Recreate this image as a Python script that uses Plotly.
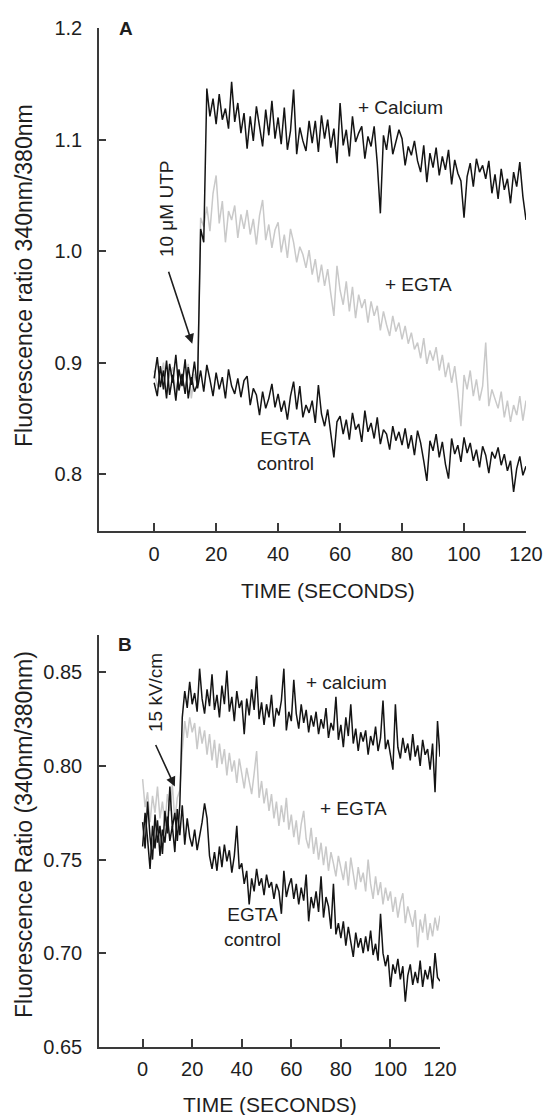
import plotly.graph_objects as go

# ---------------- data ----------------
time_s = list(range(0, 121))

# Panel A: UTP stimulation
a_control = [
    0.886, 0.905, 0.878, 0.893, 0.868, 0.899, 0.882, 0.907, 0.875, 0.890,
    0.872, 0.896, 0.880, 0.901, 0.877, 0.893, 0.874, 0.898, 0.885, 0.870,
    0.891, 0.876, 0.887, 0.868, 0.894, 0.879, 0.872, 0.886, 0.869, 0.884,
    0.888, 0.862, 0.877, 0.871, 0.853, 0.874, 0.859, 0.868, 0.881, 0.860,
    0.872, 0.856, 0.866, 0.849, 0.870, 0.883, 0.858, 0.879, 0.851, 0.862,
    0.855, 0.866, 0.846, 0.880, 0.854, 0.843, 0.858, 0.838, 0.815, 0.847,
    0.852, 0.836, 0.849, 0.831, 0.855, 0.840, 0.845, 0.829, 0.857, 0.838,
    0.846, 0.832, 0.851, 0.827, 0.840, 0.836, 0.822, 0.843, 0.830, 0.838,
    0.826, 0.841, 0.823, 0.835, 0.817, 0.839, 0.828, 0.812, 0.794, 0.830,
    0.821, 0.836, 0.815, 0.829, 0.809, 0.796, 0.832, 0.818, 0.826, 0.811,
    0.833, 0.819, 0.828, 0.812, 0.822, 0.806, 0.825, 0.817, 0.801, 0.820,
    0.814, 0.824, 0.808, 0.818, 0.803, 0.812, 0.784, 0.805, 0.816, 0.799,
    0.807,
]
a_calcium = [
    0.882, 0.870, 0.897, 0.876, 0.902, 0.871, 0.889, 0.866, 0.894, 0.879,
    0.903, 0.868, 0.887, 0.874, 0.881, 1.020, 1.008, 1.146, 1.121, 1.137,
    1.114, 1.141, 1.118, 1.128, 1.110, 1.152, 1.116, 1.133, 1.106, 1.124,
    1.092, 1.121, 1.099, 1.130, 1.112, 1.094, 1.127, 1.104, 1.135, 1.101,
    1.120, 1.096, 1.129, 1.091, 1.108, 1.145, 1.087, 1.111, 1.099, 1.090,
    1.117, 1.097, 1.117, 1.089, 1.122, 1.101, 1.118, 1.093, 1.110, 1.079,
    1.133, 1.095, 1.109, 1.085, 1.121, 1.098, 1.106, 1.112, 1.083, 1.103,
    1.094, 1.112, 1.079, 1.034, 1.104, 1.091, 1.113, 1.087, 1.098, 1.109,
    1.101, 1.077, 1.094, 1.086, 1.099, 1.081, 1.071, 1.095, 1.062, 1.088,
    1.075, 1.093, 1.068, 1.085, 1.073, 1.091, 1.060, 1.082, 1.070, 1.063,
    1.030, 1.067, 1.079, 1.058, 1.083, 1.071, 1.077, 1.065, 1.081, 1.052,
    1.069, 1.047, 1.074, 1.055, 1.065, 1.043, 1.071, 1.058, 1.080, 1.049,
    1.028,
]
a_egta = [
    0.893, 0.879, 0.884, 0.900, 0.872, 0.888, 0.896, 0.870, 0.891, 0.883,
    0.877, 0.899, 0.868, 0.890, 0.880, 1.030, 1.022, 1.040, 1.018, 1.052,
    1.068, 1.025, 1.045, 1.008, 1.036, 1.028, 1.041, 1.012, 1.033, 1.020,
    1.037, 1.015, 1.029, 1.006, 1.032, 1.046, 1.010, 1.024, 1.003, 1.019,
    1.026, 0.999, 1.015, 0.994, 1.020, 1.008, 0.990, 1.004, 0.997, 0.985,
    1.001, 0.979, 0.993, 0.972, 0.988, 0.969, 0.984, 0.962, 0.942, 0.987,
    0.965, 0.952, 0.973, 0.946, 0.968, 0.940, 0.961, 0.949, 0.957, 0.936,
    0.955, 0.942, 0.951, 0.929, 0.946, 0.934, 0.924, 0.942, 0.928, 0.936,
    0.921, 0.933, 0.917, 0.927, 0.912, 0.918, 0.904, 0.922, 0.899, 0.911,
    0.902, 0.914, 0.893, 0.907, 0.887, 0.900, 0.882, 0.897, 0.874, 0.843,
    0.889, 0.876, 0.893, 0.870, 0.885, 0.866, 0.879, 0.918, 0.861, 0.876,
    0.868, 0.859, 0.874, 0.851, 0.866, 0.847, 0.862, 0.853, 0.870, 0.848,
    0.866,
]

# Panel B: 15 kV/cm pulse
b_control = [
    0.757, 0.775, 0.761, 0.745, 0.768, 0.756, 0.771, 0.752, 0.766, 0.759,
    0.773, 0.760, 0.768, 0.754, 0.777, 0.763, 0.779, 0.758, 0.772, 0.762,
    0.757, 0.766, 0.755, 0.762, 0.770, 0.780, 0.772, 0.752, 0.745, 0.754,
    0.744, 0.757, 0.746, 0.758, 0.749, 0.755, 0.743, 0.752, 0.768, 0.745,
    0.748, 0.737, 0.744, 0.726, 0.740, 0.733, 0.745, 0.736, 0.740, 0.731,
    0.742, 0.735, 0.738, 0.729, 0.737, 0.733, 0.721, 0.744, 0.730, 0.736,
    0.740, 0.729, 0.737, 0.726, 0.735, 0.728, 0.742, 0.717, 0.730, 0.724,
    0.733, 0.722, 0.741, 0.719, 0.730, 0.725, 0.713, 0.737, 0.710, 0.716,
    0.708, 0.717, 0.704, 0.714, 0.706, 0.698, 0.711, 0.703, 0.708, 0.700,
    0.709, 0.701, 0.712, 0.699, 0.705, 0.696, 0.721, 0.700, 0.693, 0.699,
    0.682, 0.694, 0.689, 0.697, 0.686, 0.693, 0.674, 0.688, 0.694, 0.683,
    0.690, 0.684, 0.696, 0.682, 0.691, 0.686, 0.693, 0.681, 0.700, 0.687,
    0.685,
]
b_calcium = [
    0.770, 0.756, 0.781, 0.762, 0.750, 0.774, 0.759, 0.768, 0.753, 0.776,
    0.764, 0.789, 0.767, 0.775, 0.760, 0.779, 0.826, 0.840, 0.831, 0.845,
    0.833, 0.839, 0.829, 0.852, 0.836, 0.828, 0.841, 0.832, 0.849, 0.830,
    0.838, 0.826, 0.843, 0.833, 0.851, 0.829, 0.837, 0.824, 0.840, 0.831,
    0.835, 0.817, 0.836, 0.827, 0.841, 0.830, 0.848, 0.825, 0.834, 0.822,
    0.833, 0.826, 0.838, 0.821, 0.831, 0.827, 0.835, 0.852, 0.819, 0.829,
    0.824, 0.846, 0.828, 0.820, 0.833, 0.823, 0.830, 0.818, 0.827, 0.821,
    0.829, 0.817, 0.825, 0.820, 0.831, 0.815, 0.823, 0.819, 0.837, 0.814,
    0.822, 0.810, 0.826, 0.816, 0.833, 0.812, 0.820, 0.808, 0.818, 0.813,
    0.819, 0.806, 0.816, 0.811, 0.821, 0.808, 0.815, 0.835, 0.809, 0.814,
    0.806, 0.798, 0.833, 0.810, 0.804, 0.815, 0.807, 0.812, 0.803, 0.817,
    0.805, 0.811, 0.800, 0.814, 0.806, 0.809, 0.798, 0.812, 0.786, 0.824,
    0.805,
]
b_egta = [
    0.793, 0.778, 0.786, 0.770, 0.784, 0.775, 0.789, 0.772, 0.781, 0.768,
    0.785, 0.776, 0.790, 0.771, 0.783, 0.787, 0.808, 0.824, 0.815, 0.826,
    0.818, 0.823, 0.809, 0.821, 0.812, 0.819, 0.806, 0.817, 0.803, 0.814,
    0.799, 0.812, 0.801, 0.809, 0.795, 0.807, 0.797, 0.803, 0.791, 0.804,
    0.796, 0.788, 0.799, 0.791, 0.785, 0.796, 0.808, 0.783, 0.792, 0.780,
    0.788, 0.776, 0.785, 0.772, 0.781, 0.768, 0.779, 0.770, 0.783, 0.766,
    0.774, 0.762, 0.771, 0.758, 0.769, 0.776, 0.761, 0.756, 0.767, 0.753,
    0.762, 0.750, 0.759, 0.747, 0.757, 0.744, 0.754, 0.748, 0.741, 0.752,
    0.745, 0.739, 0.749, 0.736, 0.751, 0.742, 0.734, 0.746, 0.738, 0.743,
    0.733, 0.750, 0.737, 0.729, 0.741, 0.731, 0.738, 0.726, 0.735, 0.728,
    0.733, 0.722, 0.730, 0.719, 0.727, 0.732, 0.716, 0.725, 0.720, 0.714,
    0.723, 0.703, 0.718, 0.711, 0.721, 0.707, 0.716, 0.709, 0.719, 0.712,
    0.720,
]

x_ticks = [0, 20, 40, 60, 80, 100, 120]
a_yticks = [0.8, 0.9, 1.0, 1.1, 1.2]
b_yticks = [0.65, 0.70, 0.75, 0.80, 0.85]

# ---------------- styling ----------------
W, H = 546, 1115
FONT = "Liberation Sans, Arial, sans-serif"
BLACK = "#141414"
GRAY = "#c9c9c9"
AXC = "#3a3a3a"
TXT = "#1e1e1e"
LW = 1.5


def px(x):
    return x / W


def py(y):
    return 1 - y / H


fig = go.Figure()

# Panel A traces
fig.add_trace(go.Scatter(x=time_s, y=a_egta, mode="lines", line=dict(color=GRAY, width=LW),
                         xaxis="x", yaxis="y", name="+ EGTA"))
fig.add_trace(go.Scatter(x=time_s, y=a_calcium, mode="lines", line=dict(color=BLACK, width=LW),
                         xaxis="x", yaxis="y", name="+ Calcium"))
fig.add_trace(go.Scatter(x=time_s, y=a_control, mode="lines", line=dict(color=BLACK, width=LW),
                         xaxis="x", yaxis="y", name="EGTA control"))
# Panel B traces
fig.add_trace(go.Scatter(x=time_s, y=b_egta, mode="lines", line=dict(color=GRAY, width=LW),
                         xaxis="x2", yaxis="y2", name="+ EGTA"))
fig.add_trace(go.Scatter(x=time_s, y=b_calcium, mode="lines", line=dict(color=BLACK, width=LW),
                         xaxis="x2", yaxis="y2", name="+ calcium"))
fig.add_trace(go.Scatter(x=time_s, y=b_control, mode="lines", line=dict(color=BLACK, width=LW),
                         xaxis="x2", yaxis="y2", name="EGTA control"))

common_axis = dict(
    showline=True, linecolor=AXC, linewidth=1.5, showgrid=False, zeroline=False,
    ticks="inside", tickcolor=AXC, tickwidth=1.5, mirror=False,
    tickfont=dict(family=FONT, size=20, color=TXT), automargin=False,
)

fig.update_layout(
    width=W, height=H,
    margin=dict(l=0, r=0, t=0, b=0),
    paper_bgcolor="white", plot_bgcolor="white",
    showlegend=False,
    font=dict(family=FONT, color=TXT),
    xaxis=dict(domain=[px(99), px(526)], range=[-17.8, 120], tickvals=x_ticks,
               ticklen=8, anchor="y", ticklabelstandoff=4, **common_axis),
    yaxis=dict(domain=[py(531), py(28.3)], range=[0.749, 1.2], tickvals=a_yticks,
               tickformat=".1f", ticklen=7, anchor="x", ticklabelstandoff=11, **common_axis),
    xaxis2=dict(domain=[px(99), px(440)], range=[-17.6, 120], tickvals=x_ticks,
                ticklen=8, anchor="y2", ticklabelstandoff=4, **common_axis),
    yaxis2=dict(domain=[py(1046.7), py(635)], range=[0.65, 0.87], tickvals=b_yticks,
                tickformat=".2f", ticklen=7, anchor="x2", ticklabelstandoff=11, **common_axis),
)

ann = []
LBL = dict(family=FONT, size=19, color=TXT)
C = dict(xanchor="center", yanchor="middle", showarrow=False)

# Panel A labels (data coordinates)
ann += [
    dict(x=-9, y=1.2, xref="x", yref="y", text="<b>A</b>",
         font=dict(family=FONT, size=19, color=TXT), **C),
    dict(x=79.4, y=1.129, xref="x", yref="y", text="+ Calcium", font=LBL, **C),
    dict(x=85.2, y=0.970, xref="x", yref="y", text="+ EGTA", font=LBL, **C),
    dict(x=42.3, y=0.821, xref="x", yref="y", text="EGTA<br>control", font=LBL, **C),
    dict(x=4.2, y=1.038, xref="x", yref="y", text="10 μM UTP", textangle=-90, font=LBL, **C),
    dict(x=12.3, y=0.917, ax=4.5, ay=0.983, xref="x", yref="y", axref="x", ayref="y",
         text="", showarrow=True, arrowhead=2, arrowsize=1.2, arrowwidth=1.6, arrowcolor=TXT),
]
# Panel B labels
ann += [
    dict(x=-7.2, y=0.865, xref="x2", yref="y2", text="<b>B</b>",
         font=dict(family=FONT, size=19, color=TXT), **C),
    dict(x=82.4, y=0.8445, xref="x2", yref="y2", text="+ calcium", font=LBL, **C),
    dict(x=84.9, y=0.7775, xref="x2", yref="y2", text="+ EGTA", font=LBL, **C),
    dict(x=44.5, y=0.7137, xref="x2", yref="y2", text="EGTA<br>control", font=LBL, **C),
    dict(x=5.0, y=0.839, xref="x2", yref="y2", text="15 kV/cm", textangle=-90, font=LBL, **C),
    dict(x=13.0, y=0.789, ax=5.0, ay=0.812, xref="x2", yref="y2", axref="x2", ayref="y2",
         text="", showarrow=True, arrowhead=2, arrowsize=1.2, arrowwidth=1.6, arrowcolor=TXT),
]
# Axis titles
TF = dict(family=FONT, size=21, color=TXT)
YF = dict(family=FONT, size=23, color=TXT)
ann += [
    dict(x=px(328), y=py(590), xref="paper", yref="paper", text="TIME (SECONDS)", font=TF, **C),
    dict(x=px(24), y=py(276), xref="paper", yref="paper", text="Fluorescence ratio 340nm/380nm",
         textangle=-90, font=YF, **C),
    dict(x=px(270), y=py(1104), xref="paper", yref="paper", text="TIME (SECONDS)", font=TF, **C),
    dict(x=px(24), y=py(835), xref="paper", yref="paper", text="Fluorescence Ratio (340nm/380nm)",
         textangle=-90, font=YF, **C),
]
fig.update_layout(annotations=ann)

fig.write_html(
    "out.html",
    config={"displayModeBar": False},
    post_script="document.body.style.margin='0px';document.body.style.overflow='hidden';",
)
